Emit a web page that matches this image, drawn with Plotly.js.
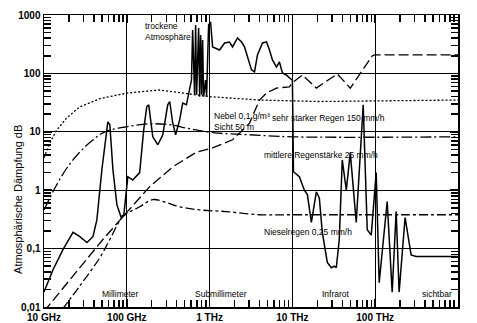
<!DOCTYPE html>
<html><head><meta charset="utf-8">
<script src="https://cdn.plot.ly/plotly-3.0.1.min.js"></script>
<style>html,body{margin:0;padding:0;background:#fff}#c{width:477px;height:323px}</style>
</head><body><div id="c"></div>
<script>
// Frequency in GHz, attenuation in dB/km
const dryF = [10,12.8,17,22.4,27.1,33,39,43.5,50,56,59,62.4,68,76,85,92,97,103,118,143,160,174,184,206,237,272,312,330,358,389,435,473,525,574,604,624,659,678,697,737,758,780,802,824,847,895,920,946,973,1028,1087,1319,1517,1740,1893,2173,2431,2641,2871,3208,3486,3787,4350,4863,5284,5741,6412,6966,7580,8472,9200,10000,10300,12140,13950,15170,16950,19460,21140,22970,26410,29520,32070,33900,36830,40000,44780,50000,59030,67780,71600,80110,89550,102800,111700,139500,160300,179100,194500,229600,257000,271600,311900,1000000];
const dryV = [0.018,0.043,0.097,0.19,0.16,0.127,0.16,0.31,2.24,8.9,14.8,13.2,2.24,0.56,0.35,0.38,0.84,1.7,1.5,2.0,10.8,26.8,29,8.2,6.0,8.9,29,33,14.3,8.9,16,31,29,52,77,554,43,674,43,600,40,455,43,374,40,77,40,170,674,760,284,252,332,345,284,404,345,284,191,115,106,207,332,345,252,170,129,157,102,94,84,77,2.07,1.70,1.0,0.84,0.28,0.94,0.74,0.19,0.058,0.047,0.05,0.047,0.143,3.3,1.0,4.4,0.28,7.3,29,0.21,0.17,2.0,0.026,0.64,0.018,0.43,0.018,0.34,0.11,0.078,0.073,0.073];

const fogF = [10,20.6,51.4,89.5,189,358,697,1087,1893,3033,4000,4863,6412,9200,10000,13190,19460,34850,50000,92050,97270,1000000];
const fogV = [0.0084,0.0295,0.143,0.35,1.15,2.5,4.5,5.3,7.3,14,35,46,56,59,69,94,56,98,56,199,207,207];

const drizF = [16.5,27.1,47.3,62.4,89.5,143.5,206,303,435,758,1603,4000,10000,1000000];
const drizV = [0.009,0.023,0.07,0.143,0.35,0.52,0.69,0.61,0.52,0.46,0.43,0.38,0.38,0.38];

const rain150F = [10,11.8,14.3,18.9,27.1,47.3,100,250,1000,4000,21140,1000000];
const rain150V = [3.6,6.5,10.8,17.4,26.8,37,46,52,40,35,33,35];

const rain25F = [10,13.6,18.9,27.1,37.9,54.3,100,189,330,574,1148,3033,10000,1000000];
const rain25V = [0.46,1.10,2.4,4.5,7.0,10,12.2,13.7,13.2,11.3,9.6,8.9,8.2,8.2];

const xTickVals = [10,100,1000,10000,100000,1000000];
const xTickText = ['10 GHz','100 GHz','1 THz','10 THz','100 THz','1000 THz'];
const yTickVals = [0.01,0.1,1,10,100,1000];
const yTickText = ['0,01','0,1','1','10','100','1000'];

// minor tick positions (2..9 within each decade)
function minorTicks(decades){ const out=[]; decades.forEach(d=>{ for(let k=2;k<=9;k++) out.push(+(k*d).toPrecision(6)); }); return out; }
const xMinor = minorTicks(xTickVals.slice(0,-1));
const yMinor = minorTicks(yTickVals.slice(0,-1));

const traces = [
  {x: rain150F, y: rain150V, mode:'lines', line:{color:'#000', width:1.3, dash:'2px,2px'}},
  {x: rain25F, y: rain25V, mode:'lines', line:{color:'#000', width:1.3, dash:'11px,3px,2px,3px', shape:'spline'}},
  {x: fogF, y: fogV, mode:'lines', line:{color:'#000', width:1.3, dash:'10px,4px'}},
  {x: drizF, y: drizV, mode:'lines', line:{color:'#000', width:1.3, dash:'9px,3px,3px,3px', shape:'spline'}},
  {x: dryF, y: dryV, mode:'lines', line:{color:'#000', width:1.5}}
];

const FAM = 'Liberation Sans Narrow, Liberation Sans, Arial';
const tf = {family:FAM, size:10, color:'#000', weight:'bold'};
function lf(){ return {family:FAM, size:8.5, color:'#000000'}; }

function ann(text, x, y, extra){ return Object.assign({text:text, x:x, y:y, xref:'paper', yref:'paper', showarrow:false, xanchor:'left', yanchor:'middle', font:lf(), align:'left'}, extra||{}); }

function axis(vals, text, minorVals, rng){
  return {type:'log', range:rng, tickmode:'array', tickvals:vals, ticktext:text, tickfont:tf,
    showgrid:true, gridcolor:'#000', gridwidth:1.3, showline:true, linecolor:'#000', linewidth:1.5, mirror:'allticks',
    ticks:'inside', ticklen:8, tickwidth:1.5, tickcolor:'#000', zeroline:false,
    minor:{tickmode:'array', tickvals:minorVals, ticks:'inside', ticklen:7, tickwidth:1.5, tickcolor:'#000', showgrid:false}};
}

const layout = {
  width:477, height:323,
  margin:{l:44, r:19, t:15, b:16},
  paper_bgcolor:'#fff', plot_bgcolor:'#fff',
  showlegend:false,
  xaxis: axis(xTickVals, xTickText, xMinor, [1,6]),
  yaxis: axis(yTickVals, yTickText, yMinor, [-2,3]),
  annotations:[
    ann('trockene<br>Atmosphäre', 0.239, 0.986, {yanchor:'top'}),
    ann('Nebel 0,1 g/m³<br>Sicht 50 m', 0.406, 0.678, {yanchor:'top'}),
    ann('sehr starker Regen 150 mm/h', 0.546, 0.647),
    ann('mittlere Regenstärke 25 mm/h', 0.527, 0.521),
    ann('Nieselregen 0,25 mm/h', 0.527, 0.257),
    ann('Millimeter', 0.135, 0.045),
    ann('Submillimeter', 0.36, 0.045),
    ann('Infrarot', 0.667, 0.045),
    ann('sichtbar', 0.908, 0.045),
    {text:'Atmosphärische Dämpfung dB', x:-0.063, y:0.37, xref:'paper', yref:'paper', showarrow:false, textangle:-90,
     xanchor:'center', yanchor:'middle', font:{family:FAM, size:11, color:'#000'}}
  ]
};
Plotly.newPlot('c', traces, layout, {staticPlot:true, displayModeBar:false});
</script></body></html>
